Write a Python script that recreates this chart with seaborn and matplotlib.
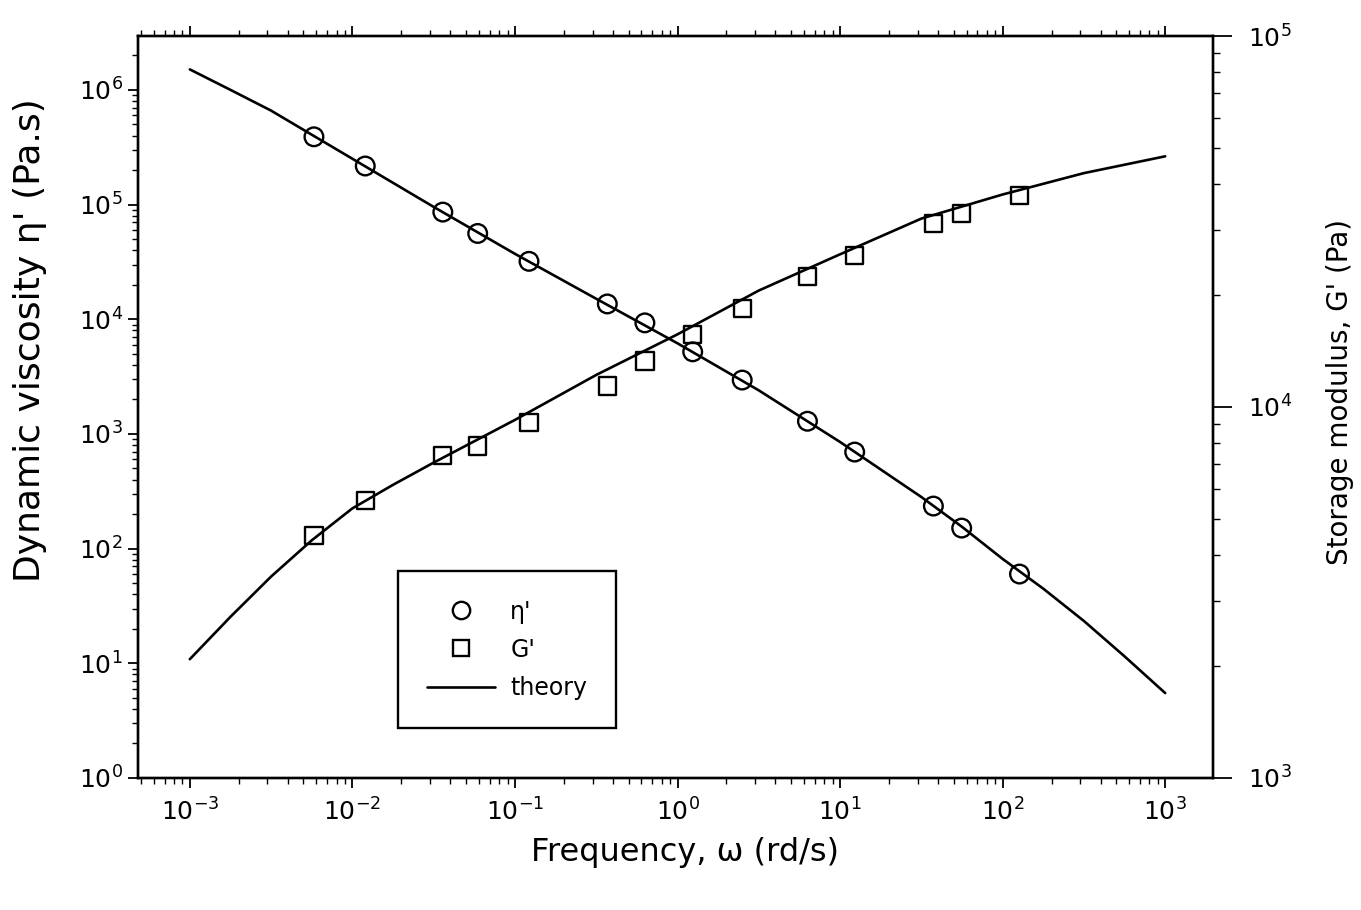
import numpy as np
import pandas as pd
import matplotlib
matplotlib.use("Agg")
import matplotlib.pyplot as plt
import seaborn as sns
from matplotlib.lines import Line2D
from matplotlib.ticker import (LogLocator, FixedLocator, LogFormatterSciNotation,
                               NullFormatter)

# ---- data ----
freq = [0.0058, 0.012, 0.036, 0.059, 0.122, 0.37, 0.63, 1.24, 2.5, 6.3, 12.3, 37.5, 56, 127]
eta = [3.9e5, 2.17e5, 8.6e4, 5.6e4, 3.2e4, 1.36e4, 9.3e3, 5.2e3, 2.95e3, 1.29e3, 695, 235, 151, 60]
gprime = [4.5e3, 5.6e3, 7.4e3, 7.85e3, 9.1e3, 1.14e4, 1.33e4, 1.57e4, 1.84e4, 2.25e4,
          2.56e4, 3.12e4, 3.33e4, 3.72e4]

eta_theory_freq = [0.001, 0.00178, 0.00316, 0.00562, 0.01, 0.0316, 0.1, 0.316, 1.0, 3.16,
                   10.0, 31.6, 56.2, 100.0, 178.0, 316.0, 562.0, 1000.0]
eta_theory = [1.51e6, 1.0e6, 6.6e5, 4.07e5, 2.51e5, 9.55e4, 3.72e4, 1.51e4, 6.17e3, 2.40e3,
              851, 282, 155, 81.3, 44.7, 23.4, 11.5, 5.5]

g_theory_freq = [0.001, 0.00178, 0.00316, 0.00562, 0.01, 0.0178, 0.0316, 0.1, 0.316, 1.0,
                 3.16, 10.0, 31.6, 100.0, 316.0, 1000.0]
gprime_theory = [2.09e3, 2.72e3, 3.49e3, 4.37e3, 5.33e3, 6.17e3, 7.08e3, 9.23e3, 1.22e4,
                 1.57e4, 2.06e4, 2.58e4, 3.22e4, 3.74e4, 4.27e4, 4.74e4]

x_ticks = [1e-3, 1e-2, 1e-1, 1e0, 1e1, 1e2, 1e3]
left_ticks = [1e0, 1e1, 1e2, 1e3, 1e4, 1e5, 1e6]
right_ticks = [1e3, 1e4, 1e5]

xlabel = "Frequency, \u03c9 (rd/s)"
ylabel_left = "Dynamic viscosity \u03b7' (Pa.s)"
ylabel_right = "Storage modulus, G' (Pa)"

sns.set_theme(style="ticks")
plt.rcParams["font.family"] = ["DejaVu Sans"]
plt.rcParams["mathtext.default"] = "regular"
for k in ("text.color", "axes.labelcolor", "xtick.color", "ytick.color", "axes.edgecolor"):
    plt.rcParams[k] = "black"

fig = plt.figure(figsize=(13.61, 9.10), dpi=100)
ax = fig.add_axes([0.1014, 0.1451, 0.7899, 0.8153])
ax.set_xscale("log")
ax.set_yscale("log")
ax2 = ax.twinx()
ax2.set_yscale("log")

lw = 1.9
# eta' theory and data on the left axis
sns.lineplot(x=eta_theory_freq, y=eta_theory, ax=ax, color="black", linewidth=lw,
             estimator=None, legend=False)
sns.scatterplot(x=freq, y=eta, ax=ax, marker="o", s=180, facecolors="none",
                edgecolors="black", linewidth=1.7, legend=False, zorder=3)
# G' theory and data on the right axis
sns.lineplot(x=g_theory_freq, y=gprime_theory, ax=ax2, color="black", linewidth=lw,
             estimator=None, legend=False)
sns.scatterplot(x=freq, y=gprime, ax=ax2, marker="s", s=155, facecolors="none",
                edgecolors="black", linewidth=1.7, legend=False, zorder=3)

ax.set_xlim(4.8e-4, 1.97e3)
ax.set_ylim(1, 2.95e6)
ax2.set_ylim(1e3, 1e5)

fmt = LogFormatterSciNotation()
ax.xaxis.set_major_locator(FixedLocator(x_ticks))
ax.xaxis.set_major_formatter(LogFormatterSciNotation())
ax.yaxis.set_major_locator(FixedLocator(left_ticks))
ax.yaxis.set_major_formatter(LogFormatterSciNotation())
ax2.yaxis.set_major_locator(FixedLocator(right_ticks))
ax2.yaxis.set_major_formatter(LogFormatterSciNotation())
for a in (ax, ax2):
    a.xaxis.set_minor_locator(LogLocator(base=10, subs=np.arange(2, 10), numticks=100))
    a.xaxis.set_minor_formatter(NullFormatter())
    a.yaxis.set_minor_locator(LogLocator(base=10, subs=np.arange(2, 10), numticks=100))
    a.yaxis.set_minor_formatter(NullFormatter())
    for s in a.spines.values():
        s.set_linewidth(1.7)
        s.set_color("black")

ax.tick_params(axis="both", which="both", direction="out", top=True, right=False,
               colors="black", labelsize=18)
ax.tick_params(axis="both", which="major", length=7, width=1.3)
ax.tick_params(axis="both", which="minor", length=4, width=1.0)
ax.tick_params(axis="x", which="major", pad=8)
ax.tick_params(axis="y", which="major", pad=4)

ax2.tick_params(axis="y", which="both", direction="out", colors="black", labelsize=18)
ax2.tick_params(axis="y", which="major", length=14, width=1.3, pad=11)
ax2.tick_params(axis="y", which="minor", length=5, width=1.0)

ax.set_xlabel(xlabel, fontsize=23)
ax.xaxis.set_label_coords(0.509, -0.08)
ax.set_ylabel(ylabel_left, fontsize=26)
ax.yaxis.set_label_coords(-0.085, 0.59)
ax2.set_ylabel(ylabel_right, fontsize=20)
ax2.yaxis.set_label_coords(1.105, 0.52)

handles = [
    Line2D([], [], marker="o", linestyle="none", markerfacecolor="none",
           markeredgecolor="black", markersize=12.5, markeredgewidth=1.7, label="\u03b7'"),
    Line2D([], [], marker="s", linestyle="none", markerfacecolor="none",
           markeredgecolor="black", markersize=11.5, markeredgewidth=1.7, label="G'"),
    Line2D([], [], color="black", linewidth=lw, label="theory"),
]
leg = ax2.legend(handles=handles, loc="lower left", bbox_to_anchor=(0.242, 0.067),
                 frameon=True, fancybox=False, edgecolor="black", framealpha=1,
                 fontsize=17, handlelength=2.9, handletextpad=0.65, borderpad=1.2,
                 labelspacing=0.6, borderaxespad=0)
leg.get_frame().set_linewidth(1.7)

fig.savefig("out.png", dpi=100)
